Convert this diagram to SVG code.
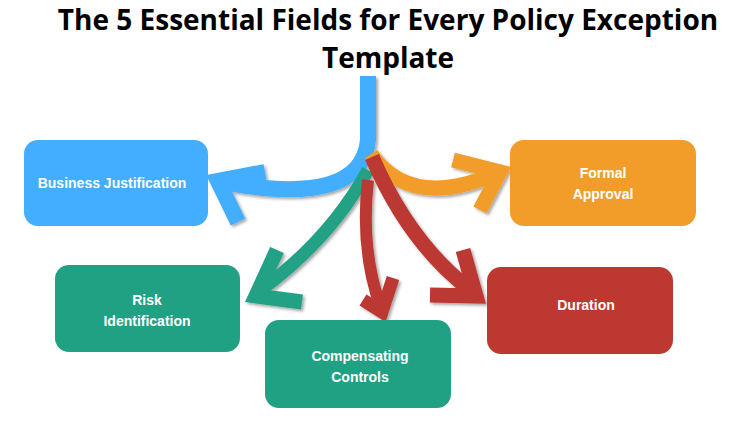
<svg xmlns="http://www.w3.org/2000/svg" width="753" height="424" viewBox="0 0 753 424">
<style>
.t{font-family:"Open Sans","Liberation Sans",sans-serif;font-weight:bold;font-size:28px;fill:#000;text-anchor:middle}
.l{font-family:"Liberation Sans",sans-serif;font-weight:bold;font-size:14px;fill:#fff;text-anchor:middle}
.a{fill:none;stroke-linejoin:miter;stroke-linecap:butt}
</style>
<defs><filter id="s" x="-10%" y="-10%" width="130%" height="130%"><feDropShadow dx="2" dy="2" stdDeviation="1.5" flood-color="#000" flood-opacity="0.35"/></filter></defs>
<text class="t" x="388" y="30">The 5 Essential Fields for Every Policy Exception</text>
<text class="t" x="388" y="68">Template</text>
<g id="connectors" filter="url(#s)">
<path class="a" stroke="#42AEFD" stroke-width="16" d="M368,76 L368,140 Q362,208 222,182"/>
<path class="a" stroke="#42AEFD" stroke-width="16" d="M265,172 L218,181 L238,222"/>
<path class="a" stroke="#F29D2A" stroke-width="15" d="M371,154 Q410,210 495,174"/>
<path class="a" stroke="#F29D2A" stroke-width="15" d="M453,160 L500,172 L480,210"/>
<path class="a" stroke="#21A184" stroke-width="13" d="M368,170 Q330,240 258,292"/>
<path class="a" stroke="#21A184" stroke-width="15" d="M277,250 L256,296 L302,302"/>
<path class="a" stroke="#BC3831" stroke-width="12" d="M368,180 Q360,250 381,308"/>
<path class="a" stroke="#BC3831" stroke-width="13" d="M363,300 L382,312 L393,278"/>
<path class="a" stroke="#BC3831" stroke-width="15" d="M372,157 Q410,245 473,292"/>
<path class="a" stroke="#BC3831" stroke-width="15" d="M463,250 L476,296 L430,295"/>
</g>
<g id="n1"><rect x="24" y="140" width="184" height="86" rx="14" fill="#42AEFD"/><text class="l" x="112" y="188">Business Justification</text></g>
<g id="n2"><rect x="510" y="140" width="186" height="86" rx="14" fill="#F29D2A"/><text class="l" x="603" y="178">Formal</text><text class="l" x="603" y="199">Approval</text></g>
<g id="n3"><rect x="55" y="265" width="185" height="87" rx="14" fill="#21A184"/><text class="l" x="147" y="305">Risk</text><text class="l" x="147" y="326">Identification</text></g>
<g id="n4"><rect x="265" y="320" width="186" height="88" rx="14" fill="#21A184"/><text class="l" x="360" y="361">Compensating</text><text class="l" x="360" y="382">Controls</text></g>
<g id="n5"><rect x="487" y="267" width="186" height="87" rx="14" fill="#BC3831"/><text class="l" x="586" y="310">Duration</text></g>
</svg>
